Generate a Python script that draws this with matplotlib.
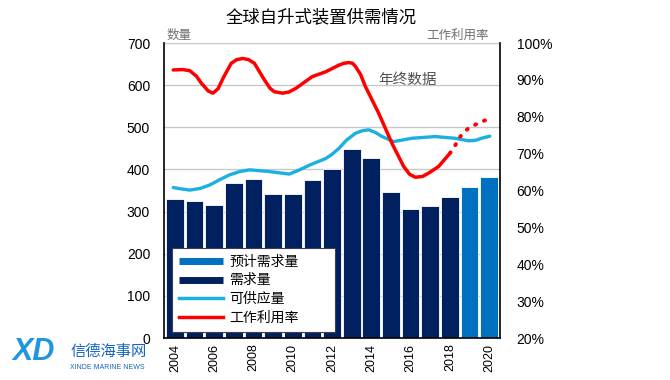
import numpy as np
import matplotlib
matplotlib.use("Agg")
import matplotlib.pyplot as plt
from matplotlib.lines import Line2D
from matplotlib.ticker import FuncFormatter

plt.rcParams['font.family'] = ['Liberation Sans', 'Noto Sans CJK SC', 'DejaVu Sans']

# bars: yearly demand (last two are projections)
years = [2004, 2005, 2006, 2007, 2008, 2009, 2010, 2011, 2012,
         2013, 2014, 2015, 2016, 2017, 2018, 2019, 2020]
demand = [329, 325, 315, 369, 378, 342, 342, 375, 400,
          449, 426, 346, 305, 314, 334, 359, 381]
projected = [False] * 15 + [True] * 2

# supply line
supply_x = [2003.92, 2004.3, 2004.76, 2005.3, 2005.77, 2006.3, 2006.78,
            2007.3, 2007.8, 2008.81, 2009.82, 2010.3, 2010.84, 2011.68,
            2012.0, 2012.35, 2012.75, 2013.2, 2013.55, 2013.87, 2014.2,
            2014.55, 2015.14, 2015.6, 2016.07, 2017.25, 2018.26, 2018.94,
            2019.3, 2019.61, 2020.03]
supply_y = [357, 354, 351, 355, 363, 376, 387,
            395, 399, 395, 389, 398, 410, 426,
            436, 450, 470, 486, 492, 494, 488,
            478, 466, 470, 474, 478, 474, 468,
            469, 474, 479]

# utilisation line (solid = actual, dotted = forecast)
util_x = [2003.92, 2004.4, 2004.76, 2005.1, 2005.35, 2005.7, 2005.94,
          2006.2, 2006.45, 2006.87, 2007.15, 2007.46, 2007.75, 2008.05,
          2008.56, 2008.85, 2009.06, 2009.48, 2009.8, 2010.16, 2010.6,
          2011.0, 2011.68, 2012.35, 2012.6, 2012.86, 2013.05, 2013.2,
          2013.45, 2013.7, 2014.38, 2015.05, 2015.65, 2015.95, 2016.24,
          2016.6, 2016.91, 2017.42, 2018.0]
util_y = [92.7, 92.8, 92.5, 91.0, 89.1, 87.0, 86.4,
          87.6, 90.4, 94.5, 95.5, 95.8, 95.5, 94.5,
          90.0, 87.7, 86.8, 86.4, 86.7, 87.7, 89.4,
          90.9, 92.2, 94.0, 94.5, 94.7, 94.5, 93.6,
          91.5, 88.2, 80.9, 72.8, 66.5, 64.4, 63.6,
          63.8, 64.7, 66.5, 70.1]
util_fc_x = [2018.0, 2018.18, 2018.52, 2018.94, 2019.61, 2019.95]
util_fc_y = [70.1, 71.4, 74.6, 76.9, 78.7, 79.3]

navy = '#002060'
proj_blue = '#0070C0'
cyan = '#1AB0E0'
red = '#FF0000'

fig = plt.figure(figsize=(6.7, 3.8), dpi=100)
ax = fig.add_axes([0.2448, 0.1105, 0.5015, 0.7763])

bar_colors = [proj_blue if p else navy for p in projected]
ax.bar(years, demand, width=0.9, color=bar_colors, edgecolor='white',
       linewidth=0.6, zorder=2)
ax.plot(supply_x, supply_y, color=cyan, lw=2.4, zorder=3,
        solid_capstyle='round', solid_joinstyle='round')

ax.set_xlim(2003.45, 2020.55)
ax.set_ylim(0, 700)
ax.set_yticks(range(0, 701, 100))
ax.yaxis.grid(True, color='#c8c8c8', lw=1.0, zorder=0)
ax.set_axisbelow(True)
ax.set_xticks(range(2004, 2021, 2))
ax.tick_params(axis='x', labelrotation=90, length=0, labelsize=9, pad=4)
ax.tick_params(axis='y', length=0, labelsize=10, pad=10)
ax.spines['top'].set_visible(False)
ax.spines['right'].set_visible(False)
ax.spines['left'].set_linewidth(1.2)
ax.spines['bottom'].set_linewidth(1.2)

ax2 = ax.twinx()
ax2.plot(util_x, util_y, color=red, lw=2.5, zorder=4,
         solid_capstyle='round', solid_joinstyle='round')
ax2.plot(util_fc_x, util_fc_y, color=red, lw=2.8, zorder=4,
         linestyle=(0, (0.3, 2.2)), dash_capstyle='round')
ax2.set_ylim(20, 100)
ax2.set_yticks(range(20, 101, 10))
ax2.yaxis.set_major_formatter(FuncFormatter(lambda v, p: '%d%%' % v))
ax2.tick_params(axis='y', length=0, labelsize=10, pad=12)
ax2.spines['top'].set_visible(False)
ax2.spines['left'].set_visible(False)
ax2.spines['bottom'].set_visible(False)
ax2.spines['right'].set_linewidth(1.2)

handles = [Line2D([], [], color=proj_blue, lw=5, solid_capstyle='butt'),
           Line2D([], [], color=navy, lw=5, solid_capstyle='butt'),
           Line2D([], [], color=cyan, lw=2.5),
           Line2D([], [], color=red, lw=2.5)]
labels = ['预计需求量', '需求量', '可供应量', '工作利用率']
leg = ax2.legend(handles, labels, loc='lower left',
                 bbox_to_anchor=(0.024, 0.02, 0.485, 0.305), mode='expand',
                 fontsize=10, handlelength=3.2, borderaxespad=0,
                 fancybox=False, framealpha=1, edgecolor='#404040',
                 borderpad=0.5, labelspacing=0.35, handletextpad=0.4)
leg.get_frame().set_linewidth(0.8)
leg.set_zorder(10)

fig.text(0.48, 0.955, '全球自升式装置供需情况', ha='center', va='center',
         fontsize=12.5)
fig.text(0.249, 0.905, '数量', ha='left', va='center', fontsize=9,
         color='#707070')
fig.text(0.729, 0.905, '工作利用率', ha='right', va='center', fontsize=9,
         color='#707070')
ax.text(0.725, 0.875, '年终数据', transform=ax.transAxes, ha='center',
        va='center', fontsize=10.5, style='italic', color='#505050')

# watermark
fig.text(0.018, 0.075, 'XD', fontsize=22, fontweight='bold', style='italic',
         color='#2196E0', ha='left', va='center')
fig.text(0.105, 0.075, '信德海事网', fontsize=11, color='#1565C0',
         ha='left', va='center')
fig.text(0.105, 0.033, 'XINDE MARINE NEWS', fontsize=5, color='#1565C0',
         ha='left', va='center')

fig.savefig('out.png', dpi=100)
